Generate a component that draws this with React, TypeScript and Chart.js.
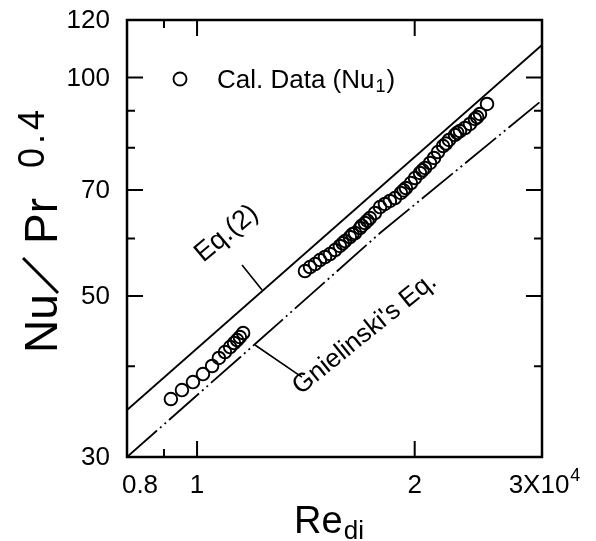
import { useEffect, useRef } from 'react';
import { Chart, registerables } from 'chart.js';

Chart.register(...registerables);

// ---- axes ----
const reMin = 0.8;
const reMax = 3;
const nuMin = 30;
const nuMax = 120;
const xTickValues = [0.8, 0.9, 1, 2, 3];
const xMajorTicks = [1, 2];
const xLabelValues = [0.8, 1, 2, 3];
const xLabelTexts = ['0.8', '1', '2', '3X10'];
const yTickValues = [30, 40, 50, 60, 70, 80, 90, 100, 120];
const yMajorTicks = [50, 70, 100];
const yLabelValues = [30, 50, 70, 100, 120];
const yLabelTexts = ['30', '50', '70', '100', '120'];

// ---- calculated data (Nu1), Re in units of 10^4 ----
const calRe = [
  0.92, 0.953, 0.987, 1.019, 1.049, 1.072, 1.093, 1.111, 1.125, 1.136, 1.146, 1.158,
  1.41, 1.433, 1.456, 1.479, 1.503, 1.527, 1.552, 1.576, 1.59, 1.602, 1.627, 1.64, 1.654, 1.68,
  1.69, 1.707, 1.72, 1.734, 1.762, 1.791, 1.819, 1.848, 1.878, 1.914, 1.93, 1.945, 1.976, 2.002, 2.034,
  2.05, 2.067, 2.1, 2.127, 2.154, 2.189, 2.21, 2.231, 2.274, 2.29, 2.31, 2.347, 2.385, 2.423, 2.44, 2.462, 2.518,
];
const calNu = [
  36.06, 37.1, 38.05, 39.03, 40.04, 41.07, 41.85, 42.52, 43.07, 43.48, 43.89, 44.45,
  54.12, 54.81, 55.33, 56.04, 56.58, 57.12, 57.85, 58.59, 59.1, 59.52, 60.28, 60.8, 61.05, 62.03,
  62.5, 63.02, 63.5, 64.03, 65.05, 66.3, 66.94, 67.58, 68.22, 69.32, 69.9, 70.42, 71.55, 72.69, 73.86,
  74.5, 75.04, 76.24, 77.46, 78.94, 80.46, 81.1, 82.01, 83.32, 83.9, 84.38, 85.19, 86.28, 87.66, 88.2, 89.06, 91.93,
];

// ---- Eq.(2) ----
const eq2Re = [0.8, 3];
const eq2Nu = [34.82, 110.85];

// ---- Gnielinski's Eq. ----
const gnRe = [0.8, 1.203, 1.791, 2.98];
const gnNu = [30, 42.93, 61.05, 92.51];

// ---- annotation anchors (data coords) ----
const eq2LabelAt = [1.02, 55.5];
const eq2LeaderFrom = [1.154, 55.17];
const eq2LeaderTo = [1.23, 50.95];
const gnLabelAt = [1.39, 36.5];
const gnLeaderFrom = [1.2027, 42.8];
const gnLeaderTo = [1.3967, 38.66];

const FONT = '"Liberation Sans", Arial, sans-serif';

const decorPlugin = {
  id: 'decor',
  afterDraw(chart: any) {
    const { ctx, chartArea, scales } = chart;
    const xs = scales.x;
    const ys = scales.y;
    const { left, right, top, bottom } = chartArea;
    ctx.save();
    ctx.fillStyle = '#000';
    ctx.strokeStyle = '#000';

    // frame
    ctx.lineWidth = 2.5;
    ctx.strokeRect(left, top, right - left, bottom - top);

    // ticks
    ctx.lineWidth = 2;
    ctx.beginPath();
    xTickValues.forEach((v) => {
      if (v === reMin || v === reMax) return;
      const px = xs.getPixelForValue(v);
      const len = xMajorTicks.includes(v) ? 16 : 8;
      ctx.moveTo(px, bottom);
      ctx.lineTo(px, bottom - len);
      ctx.moveTo(px, top);
      ctx.lineTo(px, top + len);
    });
    yTickValues.forEach((v) => {
      if (v === nuMin || v === nuMax) return;
      const py = ys.getPixelForValue(v);
      const len = yMajorTicks.includes(v) ? 16 : 8;
      ctx.moveTo(left, py);
      ctx.lineTo(left + len, py);
      ctx.moveTo(right, py);
      ctx.lineTo(right - len, py);
    });
    ctx.stroke();

    // y tick labels
    ctx.font = `26px ${FONT}`;
    ctx.textAlign = 'right';
    ctx.textBaseline = 'middle';
    yLabelValues.forEach((v, i) => {
      ctx.fillText(yLabelTexts[i], left - 17, ys.getPixelForValue(v) + 1);
    });

    // x tick labels
    ctx.textBaseline = 'alphabetic';
    ctx.textAlign = 'center';
    xLabelValues.forEach((v, i) => {
      const px = xs.getPixelForValue(v);
      const t = xLabelTexts[i];
      if (i === 0) {
        ctx.fillText(t, px + 13, bottom + 36);
      } else if (i === xLabelValues.length - 1) {
        ctx.font = `26px ${FONT}`;
        const w = ctx.measureText(t).width;
        ctx.font = `18px ${FONT}`;
        const ws = ctx.measureText('4').width;
        const x0 = px - (w + ws) / 2 + 2;
        ctx.textAlign = 'left';
        ctx.font = `26px ${FONT}`;
        ctx.fillText(t, x0, bottom + 36);
        ctx.font = `18px ${FONT}`;
        ctx.fillText('4', x0 + w + 1, bottom + 24);
        ctx.textAlign = 'center';
        ctx.font = `26px ${FONT}`;
      } else {
        ctx.fillText(t, px, bottom + 36);
      }
    });

    // x axis title: Re_di
    {
      ctx.textAlign = 'left';
      ctx.font = `38px ${FONT}`;
      const w1 = ctx.measureText('Re').width;
      ctx.font = `26px ${FONT}`;
      const w2 = ctx.measureText('di').width;
      const cx = (left + right) / 2;
      const x0 = cx - (w1 + w2) / 2 - 6;
      ctx.font = `38px ${FONT}`;
      ctx.fillText('Re', x0, bottom + 76);
      ctx.font = `26px ${FONT}`;
      ctx.fillText('di', x0 + w1 + 1, bottom + 82);
    }

    // y axis title: Nu/Pr^0.4
    {
      ctx.save();
      ctx.translate(left - 70, bottom - 104);
      ctx.rotate(-Math.PI / 2);
      ctx.textAlign = 'left';
      ctx.font = `46px ${FONT}`;
      ctx.fillText('Nu', 0, 0);
      // long slash
      ctx.lineWidth = 3;
      ctx.beginPath();
      ctx.moveTo(60, 1);
      ctx.lineTo(95, -34);
      ctx.stroke();
      ctx.fillText('Pr', 109, 0);
      const wPr = ctx.measureText('Pr').width;
      ctx.font = `36px ${FONT}`;
      (ctx as any).letterSpacing = '4px';
      ctx.fillText('0.4', 109 + wPr + 30, -13);
      (ctx as any).letterSpacing = '0px';
      ctx.restore();
    }

    // legend
    {
      const cx = left + 53;
      const cy = top + 59;
      ctx.lineWidth = 1.9;
      ctx.beginPath();
      ctx.arc(cx, cy, 6.5, 0, Math.PI * 2);
      ctx.stroke();
      ctx.textAlign = 'left';
      ctx.font = `26px ${FONT}`;
      const x0 = left + 90;
      const by = top + 68;
      const t1 = 'Cal. Data (Nu';
      ctx.fillText(t1, x0, by);
      const w1 = ctx.measureText(t1).width;
      ctx.font = `18px ${FONT}`;
      ctx.fillText('1', x0 + w1 + 1, by + 4);
      const w2 = ctx.measureText('1').width;
      ctx.font = `26px ${FONT}`;
      ctx.fillText(')', x0 + w1 + w2 + 2, by);
    }

    // annotations
    const P = (p: number[]) => [xs.getPixelForValue(p[0]), ys.getPixelForValue(p[1])];
    ctx.lineWidth = 1.6;
    ctx.beginPath();
    let a = P(eq2LeaderFrom), b = P(eq2LeaderTo);
    ctx.moveTo(a[0], a[1]);
    ctx.lineTo(b[0], b[1]);
    a = P(gnLeaderFrom); b = P(gnLeaderTo);
    ctx.moveTo(a[0], a[1]);
    ctx.lineTo(b[0], b[1]);
    ctx.stroke();

    ctx.textAlign = 'left';
    ctx.textBaseline = 'alphabetic';
    {
      const [px, py] = P(eq2LabelAt);
      ctx.save();
      ctx.font = `27px ${FONT}`;
      ctx.translate(px, py);
      ctx.rotate((-40 * Math.PI) / 180);
      ctx.fillText('Eq.(2)', 0, 0);
      ctx.restore();
    }
    {
      const [px, py] = P(gnLabelAt);
      ctx.save();
      ctx.font = `26px ${FONT}`;
      ctx.translate(px, py);
      ctx.rotate((-39 * Math.PI) / 180);
      ctx.fillText("Gnielinski's Eq.", 0, 0);
      ctx.restore();
    }
    ctx.restore();
  },
};

export default function App() {
  const ref = useRef<HTMLCanvasElement | null>(null);
  useEffect(() => {
    if (!ref.current) return;
    const toPts = (xs: number[], ys: number[]) => xs.map((x, i) => ({ x, y: ys[i] }));
    const chart = new Chart(ref.current, {
      type: 'scatter',
      data: {
        datasets: [
          {
            label: 'Cal. Data (Nu1)',
            data: toPts(calRe, calNu),
            pointStyle: 'circle',
            pointRadius: 6.3,
            pointBorderWidth: 1.9,
            borderColor: '#000',
            backgroundColor: 'rgba(0,0,0,0)',
            showLine: false,
          },
          {
            label: 'Eq.(2)',
            data: toPts(eq2Re, eq2Nu),
            showLine: true,
            pointRadius: 0,
            borderColor: '#000',
            borderWidth: 1.8,
          },
          {
            label: "Gnielinski's Eq.",
            data: toPts(gnRe, gnNu),
            showLine: true,
            pointRadius: 0,
            borderColor: '#000',
            borderWidth: 1.8,
            borderDash: [40, 4, 2, 4, 2, 4],
          },
        ],
      },
      options: {
        animation: false,
        responsive: false,
        devicePixelRatio: 1,
        layout: { padding: { left: 0, top: 20, right: 54, bottom: 0 } },
        plugins: { legend: { display: false }, tooltip: { enabled: false } },
        scales: {
          x: {
            type: 'logarithmic',
            min: reMin,
            max: reMax,
            grid: { display: false },
            border: { display: false },
            ticks: { display: false },
            afterBuildTicks: (s: any) => {
              s.ticks = xTickValues.map((v) => ({ value: v }));
            },
            afterFit: (s: any) => {
              s.height = 84;
            },
          },
          y: {
            type: 'logarithmic',
            min: nuMin,
            max: nuMax,
            grid: { display: false },
            border: { display: false },
            ticks: { display: false },
            afterBuildTicks: (s: any) => {
              s.ticks = yTickValues.map((v) => ({ value: v }));
            },
            afterFit: (s: any) => {
              s.width = 127;
            },
          },
        },
      } as any,
      plugins: [decorPlugin],
    });
    return () => chart.destroy();
  }, []);
  return (
    <div style={{ position: 'fixed', left: 0, top: 0, width: 596, height: 541, background: '#fff' }}>
      <canvas ref={ref} width={596} height={541} />
    </div>
  );
}
